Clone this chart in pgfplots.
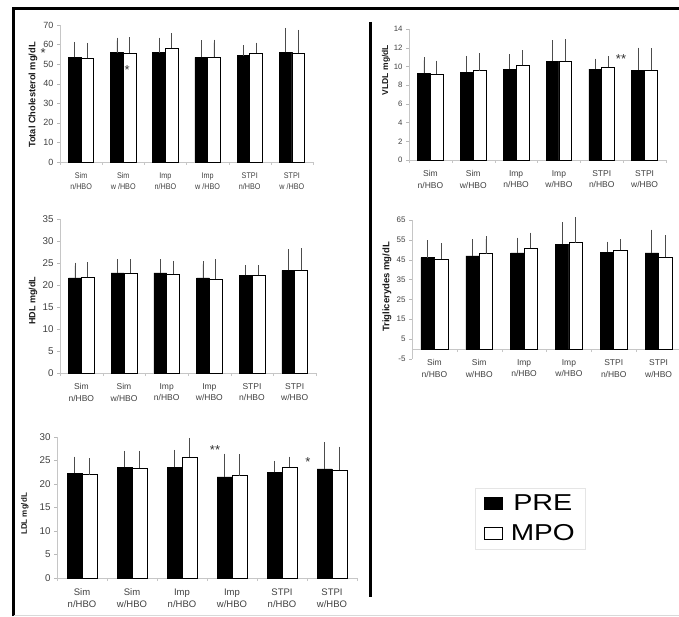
\documentclass[border=0pt]{standalone}
\usepackage{pgfplots}
\usepackage{pgfplotstable}
\pgfplotsset{compat=1.18}
\usepackage{fontspec}
\setmainfont{Liberation Sans}

\pgfplotstableread{
x pre epre mpo empo
0 53.5 6.3 53.0 6.3
1 55.9 6.1 55.7 6.4
2 55.9 6.1 58.2 6.1
3 53.5 7.1 53.5 7.5
4 54.3 3.9 55.7 3.7
5 56.0 11.0 55.7 10.3
}\tc
\pgfplotstableread{
x pre epre mpo empo
0 9.26 1.39 9.20 1.10
1 9.40 1.40 9.55 1.55
2 9.70 1.27 10.10 1.30
3 10.55 1.95 10.55 2.05
4 9.70 0.80 9.90 0.86
5 9.60 2.10 9.60 2.00
}\vldl
\pgfplotstableread{
x pre epre mpo empo
0 21.6 2.8 21.8 2.7
1 22.75 2.45 22.75 2.45
2 22.75 2.45 22.45 2.35
3 21.6 3.1 21.4 3.8
4 22.2 1.6 22.2 1.6
5 23.3 4.2 23.35 4.35
}\hdl
\pgfplotstableread{
x pre epre mpo empo
0 46.1 7.2 45.4 6.5
1 46.9 7.0 48.1 7.3
2 48.4 6.2 50.75 6.35
3 52.9 9.4 53.6 11.2
4 48.7 3.9 49.7 4.2
5 48.4 10.2 46.2 9.6
}\trig
\pgfplotstableread{
x pre epre mpo empo
0 22.3 2.9 22.0 2.8
1 23.6 2.8 23.4 3.0
2 23.6 3.0 25.7 3.5
3 21.5 4.3 21.8 3.9
4 22.5 1.8 23.6 1.6
5 23.2 5.0 23.0 4.3
}\ldl

\tikzset{astk/.style={font=\fontsize{13}{13}\selectfont, text=black!80, inner sep=0pt, yshift=-3pt}}
\pgfplotsset{
  panel/.style={
    scale only axis, anchor=south west,
    xmin=-0.5, xmax=5.5, xtick={0,...,5},
    axis y line*=left, axis x line*=bottom,
    y axis line style={gray!45,-}, x axis line style={gray!45,-},
    ytick style={gray!55}, major x tick style={draw=none},
    minor xtick={-0.5,0.5,...,5.5}, minor x tick style={gray!45},
    tick align=outside, major tick length=3pt, minor tick length=3pt,
    tick label style={text=black!75},
    xticklabel style={font=\fontsize{8.5}{11.5}\selectfont, align=center, yshift=-4pt},
    ylabel style={text=black!90},
    ybar, bar width=0.3,
    clip=false,
    /pgf/number format/assume math mode=true,
  },
  errs/.style={error bars/.cd, y dir=plus, y explicit,
    error bar style={black!70, line width=0.8pt},
    error mark options={black!70, mark size=3pt, line width=0.8pt}},
  pre/.style={fill=black, draw=black, line width=0.6pt, bar shift=-0.15, errs},
  mpo/.style={fill=white, draw=black, line width=0.6pt, bar shift=0.15, errs},
}

\begin{document}
\begin{tikzpicture}[x=1pt,y=1pt]
\useasboundingbox (0,0) rectangle (679,616);
% frame
\draw[line width=3.5pt] (13.5,0) -- (13.5,607.5) -- (679,607.5);
\draw[line width=3pt] (370.7,594) -- (370.7,19);
\draw[gray!30, line width=0.6pt] (13.5,1) -- (679,1);

% Panel 1: Total cholesterol
\begin{axis}[panel, at={(60pt,454pt)}, width=253pt, height=137pt,
  ymin=0, ymax=70, ytick={0,10,...,70},
  yticklabel style={font=\fontsize{9}{10}\selectfont},
  xticklabel style={font=\fontsize{8.2}{11.5}\selectfont, xscale=0.88},
  xticklabels={{Sim\\n/HBO},{Sim\\w /HBO},{Imp\\n/HBO},{Imp\\w /HBO},{STPI\\n/HBO},{STPI\\w /HBO}},
  ylabel={Total Cholesterol mg/dL},
  ylabel style={font=\bfseries\fontsize{9.3}{10}\selectfont, at={(axis description cs:-0.107,0.489)}, anchor=center}]
\addplot[pre] table[x=x, y=pre, y error=epre] {\tc};
\addplot[mpo] table[x=x, y=mpo, y error=empo] {\tc};
\node[astk] at (axis cs:-0.90,57.3) {*};
\node[astk] at (axis cs:1.09,48.5) {*};
\end{axis}

% Panel 2: VLDL
\begin{axis}[panel, at={(409pt,456pt)}, width=257pt, height=131pt,
  ymin=0, ymax=14, ytick={0,2,...,14},
  yticklabel style={font=\fontsize{7.8}{9}\selectfont},
  xticklabels={{Sim\\n/HBO},{Sim\\w/HBO},{Imp\\n/HBO},{Imp\\w/HBO},{STPI\\n/HBO},{STPI\\w/HBO}},
  ylabel={VLDL mg/dL},
  ylabel style={font=\bfseries\fontsize{8.5}{10}\selectfont, at={(axis description cs:-0.09,0.687)}, anchor=center}]
\addplot[pre] table[x=x, y=pre, y error=epre] {\vldl};
\addplot[mpo] table[x=x, y=mpo, y error=empo] {\vldl};
\node[astk] at (axis cs:4.45,11.1) {**};
\end{axis}

% Panel 3: HDL
\begin{axis}[panel, at={(60pt,243pt)}, width=256pt, height=154pt,
  ymin=0, ymax=35, ytick={0,5,...,35},
  yticklabel style={font=\fontsize{9.8}{11}\selectfont},
  xticklabels={{Sim\\n/HBO},{Sim\\w/HBO},{Imp\\n/HBO},{Imp\\w/HBO},{STPI\\n/HBO},{STPI\\w/HBO}},
  ylabel={HDL mg/dL},
  ylabel style={font=\bfseries\fontsize{9}{10}\selectfont, at={(axis description cs:-0.105,0.468)}, anchor=center}]
\addplot[pre] table[x=x, y=pre, y error=epre] {\hdl};
\addplot[mpo] table[x=x, y=mpo, y error=empo] {\hdl};
\end{axis}

% Panel 4: Triglycerides
\begin{axis}[panel, at={(412pt,257pt)}, width=269pt, height=139pt,
  ymin=-5, ymax=65, ytick={-5,5,...,65},
  axis x line*=middle,
  yticklabel style={font=\fontsize{8}{9}\selectfont},
  xticklabels={{Sim\\n/HBO},{Sim\\w/HBO},{Imp\\n/HBO},{Imp\\w/HBO},{STPI\\n/HBO},{STPI\\w/HBO}},
  ylabel={Triglicerydes mg/dL},
  ylabel style={font=\bfseries\fontsize{9.5}{10}\selectfont, at={(axis description cs:-0.093,0.518)}, anchor=center}]
\addplot[pre] table[x=x, y=pre, y error=epre] {\trig};
\addplot[mpo] table[x=x, y=mpo, y error=empo] {\trig};
\end{axis}

% Panel 5: LDL
\begin{axis}[panel, at={(57pt,38pt)}, width=300pt, height=141pt,
  ymin=0, ymax=30, ytick={0,5,...,30},
  yticklabel style={font=\fontsize{9.8}{11}\selectfont},
  xticklabels={{Sim\\n/HBO},{Sim\\w/HBO},{Imp\\n/HBO},{Imp\\w/HBO},{STPI\\n/HBO},{STPI\\w/HBO}},
  xticklabel style={font=\fontsize{9.5}{12.5}\selectfont},
  ylabel={LDL mg/dL},
  ylabel style={font=\bfseries\fontsize{8}{9}\selectfont, at={(axis description cs:-0.107,0.454)}, anchor=center},
  legend image code/.code={\draw[#1, line width=0.8pt] (0pt,-6pt) rectangle (18pt,6pt);},
  legend style={at={(1.578,0.422)}, anchor=center, draw=gray!20,
    font=\fontsize{23}{25}\selectfont, row sep=9pt, inner xsep=8.5pt, inner ysep=4.5pt,
    /tikz/every odd column/.append style={column sep=6pt}}]
\addplot[pre] table[x=x, y=pre, y error=epre] {\ldl};
\addplot[mpo] table[x=x, y=mpo, y error=empo] {\ldl};
\legend{\scalebox{1.25}[1]{PRE}, \scalebox{1.22}[1]{MPO}}
\node[astk] at (axis cs:2.66,27.9) {**};
\node[astk] at (axis cs:4.52,25.3) {*};
\end{axis}
\end{tikzpicture}
\end{document}
